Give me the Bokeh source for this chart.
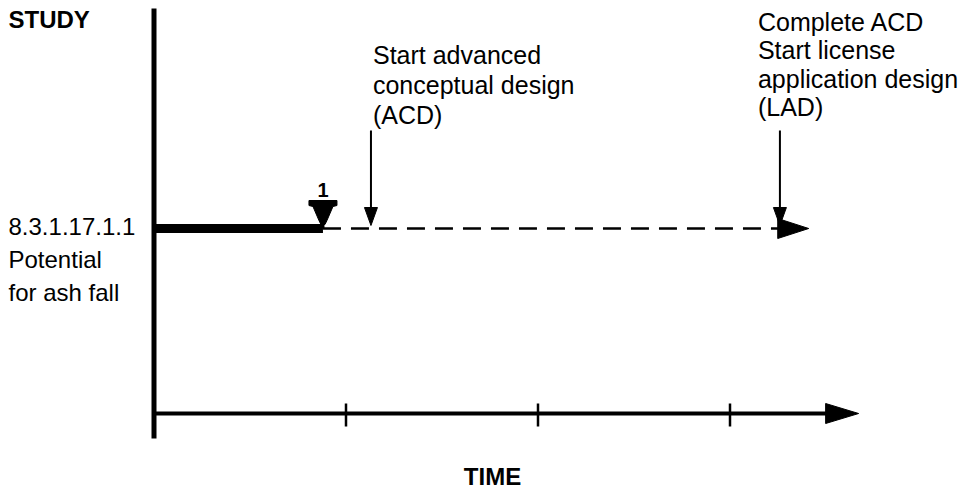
from bokeh.plotting import figure
from bokeh.models import Range1d
from bokeh.core.properties import value
from bokeh.embed import file_html
from bokeh.resources import INLINE

# ---------------- data (time in tick units, rows in row units) ----------------
time_ticks = [1, 2, 3]
time_axis_end = 3.67
study_row = 1
study_label = ["8.3.1.17.1.1", "Potential", "for ash fall"]
study_done_end = 0.88
milestone_times = [0.88]
milestone_labels = ["1"]
plan_end = 3.41
event_times = [1.13, 3.26]
event_texts = [
    ["Start advanced", "conceptual design", "(ACD)"],
    ["Complete ACD", "Start license", "application design", "(LAD)"],
]
y_title = "STUDY"
x_title = "TIME"

# ---------------- layout ----------------
W, H = 978, 490
PX_T = 192.0      # pixels per time unit
PX_R = 185.0      # pixels per row unit
AX_X = 153.5      # time-axis origin from figure left (px)
AX_Y = 413.0      # time axis from figure top (px)
FONT = "Liberation Sans"


def dx(px):
    return px / PX_T


def dy(px):
    return px / PX_R


p = figure(width=W, height=H,
           x_range=Range1d(-AX_X / PX_T, (W - AX_X) / PX_T),
           y_range=Range1d(-(H - AX_Y) / PX_R, AX_Y / PX_R),
           x_axis_location=None, y_axis_location=None,
           output_backend="svg", toolbar_location=None,
           min_border=0, outline_line_color=None)
p.grid.visible = False
p.background_fill_color = "white"
p.border_fill_color = "white"

INK = "black"

# vertical (study) axis
p.segment(x0=[0], y0=[-dy(25)], x1=[0], y1=[p.y_range.end - dy(8)], line_width=5, line_color=INK)

# time axis with arrow head
p.segment(x0=[0], y0=[0], x1=[time_axis_end - dx(28)], y1=[0], line_width=4, line_color=INK)
p.patch(x=[time_axis_end, time_axis_end - dx(33), time_axis_end - dx(33)],
        y=[0, dy(10), -dy(10)], color=INK)
p.segment(x0=time_ticks, y0=[dy(10)] * len(time_ticks), x1=time_ticks,
          y1=[-dy(13)] * len(time_ticks), line_width=2.5, line_color=INK)

# completed study bar
p.segment(x0=[0], y0=[study_row], x1=[study_done_end], y1=[study_row], line_width=9, line_color=INK)

# planned (dashed) part with arrow head
p.segment(x0=[study_done_end], y0=[study_row], x1=[plan_end - dx(28)], y1=[study_row],
          line_width=2.5, line_color=INK, line_dash="18 10")
p.patch(x=[plan_end, plan_end - dx(31), plan_end - dx(31)],
        y=[study_row, study_row + dy(10), study_row - dy(10)], color=INK)

# milestone marker(s)
shape = [(-14, 28), (14, 28), (14, 23), (10, 22), (4, 8), (2, 4), (-2, 4), (-4, 8), (-10, 22), (-14, 23)]
for m, lab in zip(milestone_times, milestone_labels):
    p.patch(x=[m + dx(a) for a, b in shape], y=[study_row + dy(b) for a, b in shape], color=INK)
    p.segment(x0=[m], y0=[study_row + dy(6)], x1=[m], y1=[study_row], line_width=3, line_color=INK)
    p.text(x=[m], y=[study_row + dy(39)], text=[lab], text_font=value(FONT),
           text_font_size="20px", text_font_style="bold", text_align="center",
           text_baseline="middle", text_color=INK)

# event arrows
for t in event_times:
    p.segment(x0=[t], y0=[study_row + dy(98)], x1=[t], y1=[study_row + dy(18)],
              line_width=2, line_color=INK)
    p.patch(x=[t, t - dx(6.5), t + dx(6.5)],
            y=[study_row + dy(3), study_row + dy(21), study_row + dy(21)], color=INK)

# event texts
acd_lines, lad_lines = event_texts
p.text(x=[event_times[0] + dx(2)] * len(acd_lines),
       y=[study_row + dy(174 - 30 * i) for i in range(len(acd_lines))],
       text=acd_lines, text_font=value(FONT), text_font_size="25px",
       text_align="left", text_baseline="middle", text_color=INK)
p.text(x=[event_times[1] - dx(22)] * len(lad_lines),
       y=[study_row + dy(207 - 28.5 * i) for i in range(len(lad_lines))],
       text=lad_lines, text_font=value(FONT), text_font_size="25px",
       text_align="left", text_baseline="middle", text_color=INK)

# study labels
left = p.x_range.start + dx(8)
p.text(x=[left] * len(study_label),
       y=[study_row + dy(2 - 33 * i) for i in range(len(study_label))],
       text=study_label, text_font=value(FONT), text_font_size="24px",
       text_align="left", text_baseline="middle", text_color=INK)

# titles
p.text(x=[left], y=[dy(394)], text=[y_title], text_font=value(FONT), text_font_size="24px",
       text_font_style="bold", text_align="left", text_baseline="middle", text_color=INK)
p.text(x=[dx(492 - 153.5)], y=[-dy(63)], text=[x_title], text_font=value(FONT),
       text_font_size="24px", text_font_style="bold", text_align="center",
       text_baseline="middle", text_color=INK)

open("out.html", "w").write(file_html(p, INLINE))
